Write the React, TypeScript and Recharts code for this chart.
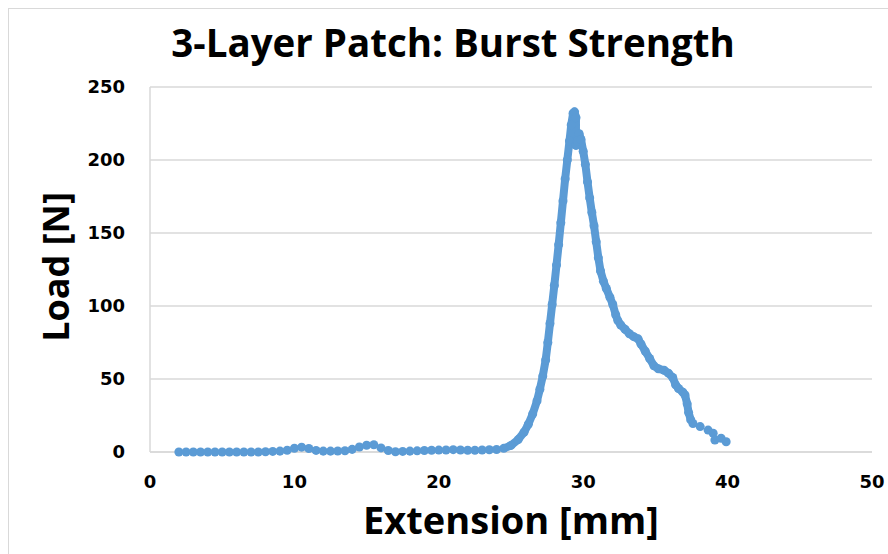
import React from 'react';
import {
  ScatterChart,
  Scatter,
  XAxis,
  YAxis,
  ZAxis,
  CartesianGrid
} from 'recharts';

// Low-load region before the burst, sampled every 0.5 mm (shown as single dots)
const baseExtension = [
  2, 2.5, 3, 3.5, 4, 4.5, 5, 5.5, 6, 6.5, 7, 7.5, 8, 8.5, 9, 9.5, 10, 10.5, 11, 11.5,
  12, 12.5, 13, 13.5, 14, 14.5, 15, 15.5, 16, 16.5, 17, 17.5, 18, 18.5, 19, 19.5, 20,
  20.5, 21, 21.5, 22, 22.5, 23, 23.5, 24
];
const baseLoad = [
  0, 0, 0, 0, 0, 0, 0, 0, 0, 0, 0, 0, 0.2, 0.4, 0.6, 1.2, 2.6, 3.3, 2.4, 1.1,
  0.6, 0.6, 0.7, 0.9, 1.8, 3.4, 4.6, 5.0, 2.8, 1.0, 0.2, 0.4, 0.6, 0.8, 1.0, 1.2, 1.3,
  1.4, 1.6, 1.4, 1.2, 1.2, 1.4, 1.5, 1.7
];

// Burst region, densely sampled (drawn as a continuous trail of dots)
const burstExtension = [
  24.5, 25.0, 25.5, 25.9, 26.2, 26.5, 26.8, 27.0, 27.2, 27.4, 27.55, 27.7, 27.85, 28.0,
  28.15, 28.3, 28.45, 28.6, 28.75, 28.9, 29.05, 29.17, 29.3, 29.4, 29.5, 29.5, 29.6,
  29.72, 29.85, 30.0, 30.15, 30.3, 30.45, 30.6, 30.75, 30.9, 31.05, 31.2, 31.4, 31.6,
  31.85, 32.05, 32.25, 32.4, 32.6, 32.9, 33.2, 33.5, 33.8, 34.0, 34.3, 34.6, 34.9, 35.2,
  35.6, 35.9, 36.2, 36.4, 36.6, 36.9, 37.05, 37.2, 37.3, 37.45
];
const burstLoad = [
  2.5, 4.5, 8.5, 13.5, 19, 26, 35, 43, 52, 63, 75, 88, 101, 114,
  128, 142, 157, 172, 187, 200, 213, 224, 232, 233, 229, 210, 213,
  218, 214, 206, 197, 185, 174, 164, 155, 144, 133, 124, 117, 112,
  106, 101, 94, 90, 87, 84, 81, 79, 77.5, 74, 69, 64, 59, 57,
  56, 54, 51, 46, 43.5, 41, 39, 33, 27, 22
];

// Tail after failure
const tailExtension = [37.6, 38.1, 38.65, 39.0, 39.12, 39.55, 39.9];
const tailLoad = [19.5, 17.4, 15, 12.8, 8.2, 9.4, 7];

const xTicks = [0, 10, 20, 30, 40, 50];
const yTicks = [0, 50, 100, 150, 200, 250];

const toPoints = (xs: number[], ys: number[]) => xs.map((x, i) => ({ x, y: ys[i] }));

const BLUE = '#5b9bd5';
const GRID = '#d9d9d9';
const TICK_FONT = 'DejaVu Sans, Verdana, sans-serif';
const TITLE_FONT = 'Open Sans, sans-serif';

const App: React.FC = () => {
  const baseData = toPoints(baseExtension, baseLoad);
  const burstData = toPoints(burstExtension, burstLoad);
  const tailData = toPoints(tailExtension, tailLoad);

  const tickStyle = { fill: '#000', fontSize: 18, fontWeight: 700, fontFamily: TICK_FONT };

  return (
    <div style={{ position: 'absolute', left: 0, top: 0, width: 888, height: 554, background: '#fff', overflow: 'hidden' }}>
      <div
        style={{
          position: 'absolute',
          left: 8,
          top: 8,
          width: 1000,
          height: 1000,
          border: `1.5px solid ${GRID}`
        }}
      />
      <ScatterChart width={888} height={554} margin={{ top: 87, right: 16, bottom: 72, left: 0 }}>
        <CartesianGrid vertical={false} stroke={GRID} strokeWidth={1.5} />
        <XAxis
          type="number"
          dataKey="x"
          domain={[0, 50]}
          ticks={xTicks}
          height={30}
          tickSize={0}
          tickMargin={23}
          tickLine={false}
          axisLine={{ stroke: GRID, strokeWidth: 1.5 }}
          tick={tickStyle}
        />
        <YAxis
          type="number"
          dataKey="y"
          domain={[0, 250]}
          ticks={yTicks}
          width={150}
          tickSize={0}
          tickMargin={25}
          tickLine={false}
          axisLine={{ stroke: GRID, strokeWidth: 1.5 }}
          tick={tickStyle}
        />
        <ZAxis range={[50, 50]} />
        <Scatter data={baseData} fill={BLUE} isAnimationActive={false} />
        <Scatter
          data={burstData}
          fill={BLUE}
          line={{ stroke: BLUE, strokeWidth: 8, strokeLinejoin: 'round' }}
          isAnimationActive={false}
        />
        <Scatter data={tailData} fill={BLUE} isAnimationActive={false} />
      </ScatterChart>
      <svg
        width={888}
        height={554}
        style={{ position: 'absolute', left: 0, top: 0, pointerEvents: 'none' }}
      >
        <text x={453} y={57} textAnchor="middle" fontFamily={TITLE_FONT} fontWeight={700} fontSize={38.5} fill="#000">
          3-Layer Patch: Burst Strength
        </text>
        <text x={511} y={534} textAnchor="middle" fontFamily={TITLE_FONT} fontWeight={700} fontSize={38} fill="#000">
          Extension [mm]
        </text>
        <text
          x={0}
          y={0}
          transform="translate(69 267) rotate(-90)"
          textAnchor="middle"
          fontFamily={TITLE_FONT}
          fontWeight={700}
          fontSize={36}
          fill="#000"
        >
          Load [N]
        </text>
      </svg>
    </div>
  );
};

export default App;
